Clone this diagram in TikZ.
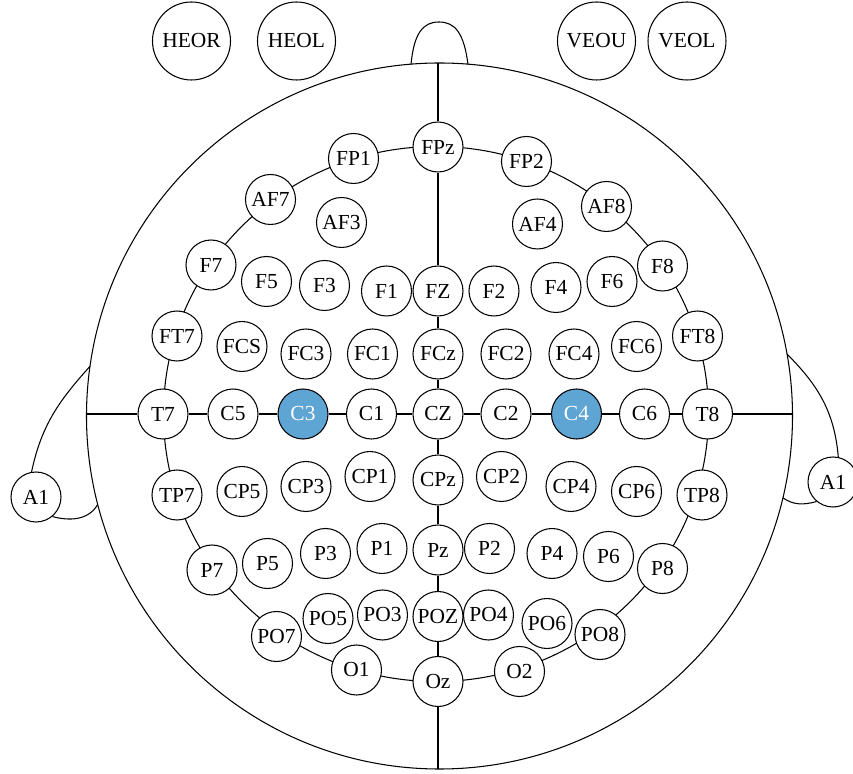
\documentclass[tikz,border=0pt]{standalone}
\usepackage{fontspec}
\setmainfont{Liberation Serif}
\usepackage{tikz}
\definecolor{elecblue}{RGB}{95,165,212}
\tikzset{
  electrode/.style={circle,draw,fill=white,minimum size=1cm,inner sep=0pt,font=\fontsize{12.2}{14}\selectfont},
  active/.style={electrode,fill=elecblue,text=white},
  eog/.style={circle,draw,fill=white,minimum size=1.56cm,inner sep=0pt,font=\fontsize{12.2}{14}\selectfont}
}

\begin{document}
\begin{tikzpicture}[line width=0.6pt]
\useasboundingbox (-8.76,-7.2) rectangle (8.3,8.28);
% head, nose and ears
\coordinate (H) at (0.03,-0.04);
\draw (H) circle (7.06);
\draw (-0.54,6.99) .. controls (-0.48,7.62) and (-0.3,7.84) .. (0.02,7.84) .. controls (0.34,7.84) and (0.52,7.62) .. (0.6,6.99);
\path (H) ++(171.9:7.06) coordinate (earL1) (H) ++(194.5:7.06) coordinate (earL2);
\path (H) ++(10.1:7.06) coordinate (earR1) (H) ++(-13.4:7.06) coordinate (earR2);
\coordinate (top) at (0,7.02);
\coordinate (bot) at (0,-7.1);
\coordinate (left) at (-7.03,0);
\coordinate (right) at (7.09,0);
\draw (-0.04,0) ellipse (5.45 and 5.35);

\node[eog] (HEOR) at (-4.93,7.46) {HEOR};
\node[eog] (HEOL) at (-2.83,7.46) {HEOL};
\node[eog] (VEOU) at (3.17,7.46) {VEOU};
\node[eog] (VEOL) at (4.98,7.46) {VEOL};
\node[electrode] (A1L) at (-8.04,-1.66) {A1};
\node[electrode] (A1R) at (7.9,-1.36) {A1};

% outer ring
\node[electrode] (FPz) at (0,5.34) {FPz};
\node[electrode] (FP1) at (-1.69,5.11) {FP1};
\node[electrode] (FP2) at (1.77,5.05) {FP2};
\node[electrode] (AF7) at (-3.35,4.29) {AF7};
\node[electrode] (AF8) at (3.37,4.15) {AF8};
\node[electrode] (F7) at (-4.54,2.98) {F7};
\node[electrode] (F8) at (4.49,2.96) {F8};
\node[electrode] (FT7) at (-5.22,1.56) {FT7};
\node[electrode] (FT8) at (5.19,1.56) {FT8};
\node[electrode] (T7) at (-5.5,0) {T7};
\node[electrode] (T8) at (5.39,0) {T8};
\node[electrode] (TP7) at (-5.22,-1.62) {TP7};
\node[electrode] (TP8) at (5.28,-1.62) {TP8};
\node[electrode] (P7) at (-4.52,-3.12) {P7};
\node[electrode] (P8) at (4.49,-3.09) {P8};
\node[electrode] (PO7) at (-3.23,-4.45) {PO7};
\node[electrode] (PO8) at (3.24,-4.41) {PO8};
\node[electrode] (O1) at (-1.63,-5.12) {O1};
\node[electrode] (O2) at (1.63,-5.15) {O2};
\node[electrode] (Oz) at (0,-5.35) {Oz};

% inner rows
\node[electrode] (AF3) at (-1.93,3.83) {AF3};
\node[electrode] (AF4) at (1.99,3.8) {AF4};

\node[electrode] (F5) at (-3.43,2.65) {F5};
\node[electrode] (F3) at (-2.27,2.57) {F3};
\node[electrode] (F1) at (-1.03,2.46) {F1};
\node[electrode] (FZ) at (0,2.46) {FZ};
\node[electrode] (F2) at (1.12,2.46) {F2};
\node[electrode] (F4) at (2.36,2.53) {F4};
\node[electrode] (F6) at (3.48,2.65) {F6};

\node[electrode] (FCS) at (-3.92,1.35) {FCS};
\node[electrode] (FC3) at (-2.64,1.2) {FC3};
\node[electrode] (FC1) at (-1.31,1.2) {FC1};
\node[electrode] (FCz) at (0,1.2) {FCz};
\node[electrode] (FC2) at (1.36,1.2) {FC2};
\node[electrode] (FC4) at (2.72,1.2) {FC4};
\node[electrode] (FC6) at (3.97,1.35) {FC6};

\node[electrode] (C5) at (-4.1,0) {C5};
\node[active] (C3) at (-2.7,0) {C3};
\node[electrode] (C1) at (-1.33,0) {C1};
\node[electrode] (CZ) at (0,0) {CZ};
\node[electrode] (C2) at (1.36,0) {C2};
\node[active] (C4) at (2.77,0) {C4};
\node[electrode] (C6) at (4.13,0) {C6};

\node[electrode] (CP5) at (-3.92,-1.55) {CP5};
\node[electrode] (CP3) at (-2.64,-1.45) {CP3};
\node[electrode] (CP1) at (-1.36,-1.25) {CP1};
\node[electrode] (CPz) at (0,-1.32) {CPz};
\node[electrode] (CP2) at (1.27,-1.25) {CP2};
\node[electrode] (CP4) at (2.66,-1.45) {CP4};
\node[electrode] (CP6) at (3.97,-1.55) {CP6};

\node[electrode] (P5) at (-3.41,-2.99) {P5};
\node[electrode] (P3) at (-2.25,-2.79) {P3};
\node[electrode] (P1) at (-1.12,-2.69) {P1};
\node[electrode] (Pz) at (0,-2.72) {Pz};
\node[electrode] (P2) at (1.03,-2.69) {P2};
\node[electrode] (P4) at (2.28,-2.79) {P4};
\node[electrode] (P6) at (3.41,-2.85) {P6};

\node[electrode] (PO5) at (-2.2,-4.09) {PO5};
\node[electrode] (PO3) at (-1.11,-4.02) {PO3};
\node[electrode] (POZ) at (0,-4.05) {POZ};
\node[electrode] (PO4) at (1.01,-4.02) {PO4};
\node[electrode] (PO6) at (2.18,-4.19) {PO6};

% midlines
\draw (top) -- (FPz) -- (FZ) -- (FCz) -- (CZ) -- (CPz) -- (Pz) -- (POZ) -- (Oz) -- (bot);
\draw (left) -- (T7) -- (C5) -- (C3) -- (C1) -- (CZ) -- (C2) -- (C4) -- (C6) -- (T8) -- (right);

% ears
\draw (earL1) to[out=228,in=78] (A1L.100);
\draw (A1L.-50) to[out=-15,in=240] (earL2);
\draw (earR1) to[out=-45,in=95] (A1R.78);
\draw (A1R.230) to[out=195,in=-35] (earR2);
\end{tikzpicture}
\end{document}
